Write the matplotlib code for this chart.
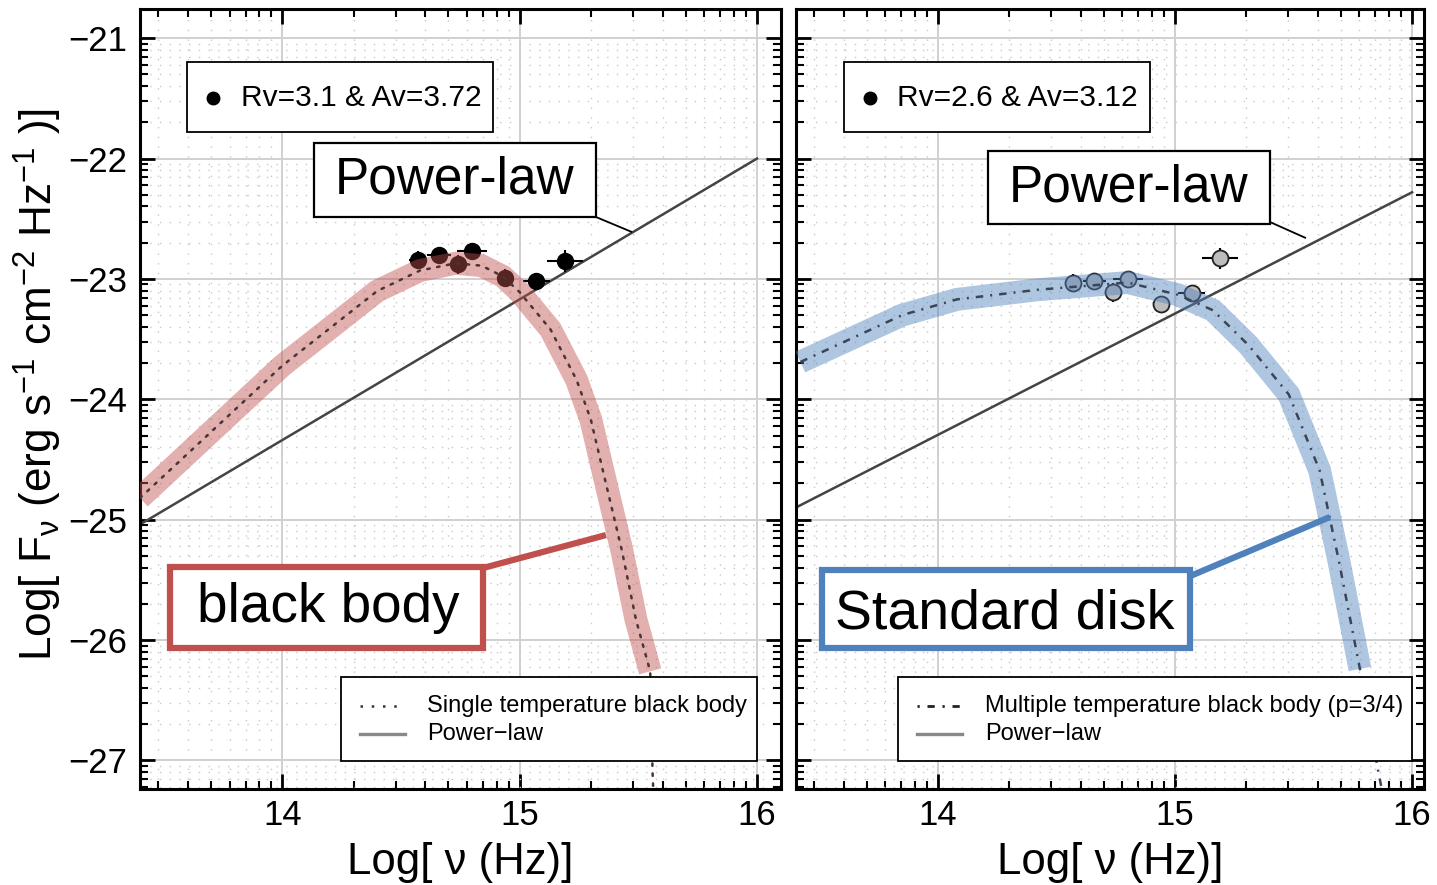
import numpy as np
import matplotlib.pyplot as plt
from matplotlib.patches import Rectangle
from matplotlib.ticker import MultipleLocator, FixedLocator

plt.rcParams['font.family'] = ['Liberation Sans', 'DejaVu Sans']
plt.rcParams['mathtext.fontset'] = 'custom'
plt.rcParams['mathtext.rm'] = 'Liberation Sans'
plt.rcParams['mathtext.it'] = 'Liberation Sans'
plt.rcParams['mathtext.bf'] = 'Liberation Sans:bold'

# photometry, log nu / log F_nu
nu_obs = [14.57, 14.66, 14.74, 14.80, 14.94, 15.07, 15.19]
nu_err = [0.035, 0.05, 0.03, 0.063, 0.03, 0.058, 0.076]
flux_rv31 = [-22.84, -22.80, -22.88, -22.77, -22.99, -23.02, -22.85]
flux_rv26 = [-23.03, -23.02, -23.11, -23.00, -23.21, -23.12, -22.83]
flux_err = [0.07, 0.06, 0.08, 0.07, 0.07, 0.07, 0.09]

# single temperature black body
bb_nu = [13.40, 14.00, 14.40, 14.58, 14.73, 14.84, 14.93, 15.00, 15.13,
         15.24, 15.30, 15.36, 15.43, 15.49, 15.55, 15.56, 15.57]
bb_flux = [-24.82, -23.72, -23.10, -22.93, -22.87, -22.89, -22.98, -23.11,
           -23.42, -23.84, -24.17, -24.67, -25.25, -25.83, -26.26, -27.10, -27.60]
bb_band = 15

# standard disk, p=3/4
disk_nu = [13.42, 13.85, 14.08, 14.42, 14.80, 15.01, 15.16, 15.31, 15.48,
           15.61, 15.69, 15.78, 15.86, 15.90]
disk_flux = [-23.69, -23.30, -23.17, -23.09, -23.03, -23.13, -23.26, -23.55,
             -23.96, -24.59, -25.33, -26.24, -27.12, -27.50]
disk_band = 12

# power-law components
pl_nu_a = [13.40, 16.00]
pl_flux_a = [-25.04, -22.00]
pl_nu_b = [13.40, 16.00]
pl_flux_b = [-24.90, -22.28]

RED = '#c0504d'
BLUE = '#4f81bd'


def log_minor(lo, hi):
    return [n + np.log10(k) for n in range(lo, hi) for k in range(2, 10)]


def setup(ax, xlim):
    ax.set_xlim(*xlim)
    ax.set_ylim(-27.24, -20.76)
    ax.xaxis.set_major_locator(MultipleLocator(1))
    ax.yaxis.set_major_locator(MultipleLocator(1))
    ax.xaxis.set_minor_locator(FixedLocator(log_minor(13, 17)))
    ax.yaxis.set_minor_locator(FixedLocator(log_minor(-28, -20)))
    ax.grid(which='major', color='#d0d0d0', lw=1.4, zorder=0)
    ax.grid(which='minor', color='#c8c8c8', lw=1.0, ls=(0, (1, 6)), zorder=0)
    ax.set_axisbelow(True)
    ax.tick_params(which='both', direction='in', top=True, right=True,
                   labelsize=25)
    ax.tick_params(which='major', length=11, width=2)
    ax.tick_params(which='minor', length=6, width=1.5)
    ax.tick_params(axis='y', pad=9)
    ax.tick_params(axis='x', pad=7)
    for s in ax.spines.values():
        s.set_linewidth(2.2)
    ax.set_xlabel('Log[ ν (Hz)]', fontsize=31.5, labelpad=7)


def box(ax, x0, y0, x1, y1, ec='black', lw=1.3):
    ax.add_patch(Rectangle((x0, y0), x1 - x0, y1 - y0, transform=ax.transAxes,
                           fc='white', ec=ec, lw=lw, zorder=8, clip_on=False))


def pointer(ax, p0, p1, color, lw):
    ax.plot([p0[0], p1[0]], [p0[1], p1[1]], color=color, lw=lw,
            transform=ax.transAxes, zorder=7, solid_capstyle='butt')


fig = plt.figure(figsize=(14.37, 8.85), dpi=100)
ax1 = fig.add_axes([0.0974, 0.1081, 0.4459, 0.8814])
ax2 = fig.add_axes([0.5537, 0.1081, 0.4372, 0.8814])

# ---- left: single temperature black body
setup(ax1, (13.4, 16.1))
ax1.plot(pl_nu_a, pl_flux_a, color='#444444', lw=1.8, zorder=2)
ax1.errorbar(nu_obs, flux_rv31, xerr=nu_err, yerr=flux_err, fmt='o', ms=11.5,
             mfc='black', mec='black', ecolor='black', elinewidth=1.5,
             capsize=0, zorder=3)
ax1.plot(bb_nu[:bb_band], bb_flux[:bb_band], color=RED, alpha=0.45, lw=16.5,
         solid_capstyle='butt', solid_joinstyle='miter', zorder=4)
ax1.plot(bb_nu, bb_flux, color='#4a3535', lw=1.8, ls=(0, (1, 3)),
         dash_capstyle='round', zorder=5)
ax1.set_ylabel('Log[ F$_{\\nu}$ (erg s$^{-1}$ cm$^{-2}$ Hz$^{-1}$ )]',
               fontsize=31.8)
ax1.yaxis.set_label_coords(-0.118, 0.5196)

box(ax1, 0.0734, 0.8427, 0.5510, 0.9324)
ax1.plot([0.1139], [0.8863], 'o', color='black', ms=9, transform=ax1.transAxes,
         zorder=9, clip_on=False)
ax1.text(0.1576, 0.8863, 'Rv=3.1 & Av=3.72', fontsize=21.5, va='center',
         transform=ax1.transAxes, zorder=9)

box(ax1, 0.2716, 0.7337, 0.7117, 0.8286, lw=1.6)
ax1.text(0.4916, 0.7812, 'Power-law', fontsize=37, ha='center', va='center',
         transform=ax1.transAxes, zorder=9)
pointer(ax1, (0.7117, 0.7337), (0.7679, 0.7144), 'black', 1.3)

box(ax1, 0.0468, 0.1812, 0.5353, 0.2850, ec=RED, lw=4.5)
ax1.text(0.2934, 0.2324, 'black body', fontsize=39.5, ha='center',
         va='center', transform=ax1.transAxes, zorder=9)
pointer(ax1, (0.5353, 0.2837), (0.7273, 0.3260), RED, 4.5)

box(ax1, 0.3137, 0.0366, 0.9630, 0.1440)
ax1.plot([0.3434, 0.4136], [0.1068, 0.1068], color='#333333', lw=1.8,
         ls=(0, (1, 3.5)), transform=ax1.transAxes, zorder=9)
ax1.plot([0.3434, 0.4136], [0.0709, 0.0709], color='#888888', lw=2.4,
         transform=ax1.transAxes, zorder=9)
ax1.text(0.4480, 0.1068, 'Single temperature black body', fontsize=17,
         va='center', transform=ax1.transAxes, zorder=9)
ax1.text(0.4480, 0.0709, 'Power\u2212law', fontsize=17, va='center',
         transform=ax1.transAxes, zorder=9)

# ---- right: standard disk
setup(ax2, (13.4, 16.05))
ax2.tick_params(labelleft=False)
ax2.plot(pl_nu_b, pl_flux_b, color='#444444', lw=1.8, zorder=2)
ax2.errorbar(nu_obs, flux_rv26, xerr=nu_err, yerr=flux_err, fmt='o', ms=11.5,
             mfc='#bdbdbd', mec='#222222', mew=1.3, ecolor='black',
             elinewidth=1.5, capsize=0, zorder=3)
ax2.plot(disk_nu[:disk_band], disk_flux[:disk_band], color=BLUE, alpha=0.45,
         lw=16.5, solid_capstyle='butt', solid_joinstyle='miter', zorder=4)
ax2.plot(disk_nu, disk_flux, color='#3a4658', lw=1.8,
         ls=(0, (3, 2.8, 0.8, 2.8)), zorder=5)

box(ax2, 0.0769, 0.8427, 0.5639, 0.9324)
ax2.plot([0.1188], [0.8863], 'o', color='black', ms=9, transform=ax2.transAxes,
         zorder=9, clip_on=False)
ax2.text(0.1619, 0.8863, 'Rv=2.6 & Av=3.12', fontsize=21.5, va='center',
         transform=ax2.transAxes, zorder=9)

box(ax2, 0.3061, 0.7247, 0.7549, 0.8183, lw=1.6)
ax2.text(0.5305, 0.7710, 'Power-law', fontsize=37, ha='center', va='center',
         transform=ax2.transAxes, zorder=9)
pointer(ax2, (0.7549, 0.7273), (0.8122, 0.7067), 'black', 1.3)

box(ax2, 0.0419, 0.1812, 0.6276, 0.2812, ec=BLUE, lw=4.5)
ax2.text(0.3331, 0.2247, 'Standard disk', fontsize=40, ha='center',
         va='center', transform=ax2.transAxes, zorder=9)
pointer(ax2, (0.6244, 0.2722), (0.8504, 0.3491), BLUE, 4.5)

box(ax2, 0.1628, 0.0366, 0.9809, 0.1440)
ax2.plot([0.1931, 0.2647], [0.1068, 0.1068], color='#222222', lw=2.0,
         ls=(0, (0.8, 2.8, 2.6, 2.8)), transform=ax2.transAxes, zorder=9)
ax2.plot([0.1931, 0.2647], [0.0709, 0.0709], color='#888888', lw=2.4,
         transform=ax2.transAxes, zorder=9)
ax2.text(0.3013, 0.1068, 'Multiple temperature black body (p=3/4)',
         fontsize=17, va='center', transform=ax2.transAxes, zorder=9)
ax2.text(0.3013, 0.0709, 'Power\u2212law', fontsize=17, va='center',
         transform=ax2.transAxes, zorder=9)

fig.savefig('out.png', dpi=100)
